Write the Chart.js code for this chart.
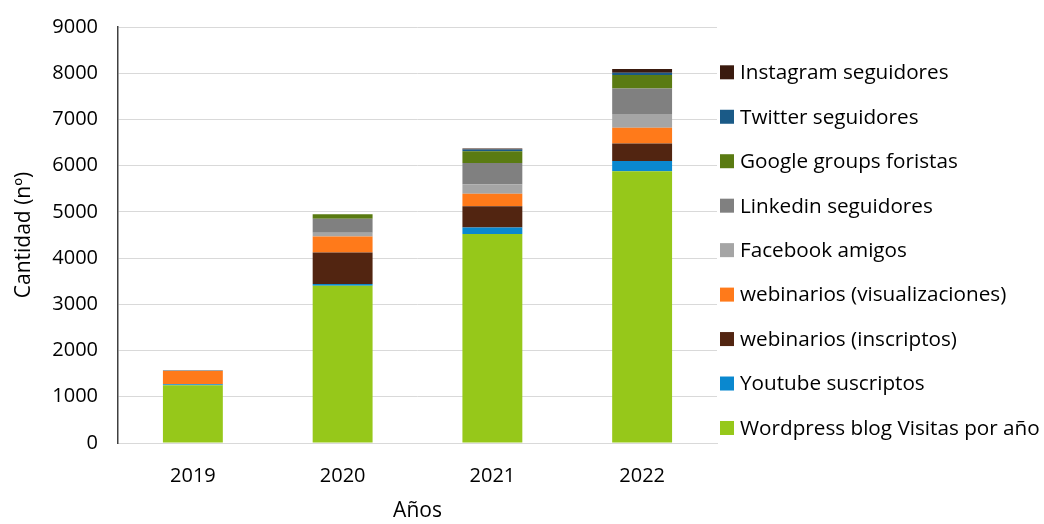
<!DOCTYPE html>
<html>
<head>
<meta charset="utf-8">
<script src="https://cdn.jsdelivr.net/npm/chart.js@4.4.1/dist/chart.umd.min.js"></script>
<style>
html,body{margin:0;padding:0;background:#fff;}
#wrap{width:1044px;height:524px;position:relative;}
</style>
</head>
<body>
<div id="wrap"><canvas id="c" width="1044" height="524"></canvas></div>
<script>
const categories = ['2019', '2020', '2021', '2022'];
const wordpress = [1250, 3400, 4520, 5880];
const youtube = [20, 40, 140, 220];
const inscriptos = [0, 680, 460, 380];
const visualizaciones = [290, 350, 270, 340];
const facebook = [20, 80, 210, 300];
const linkedin = [0, 300, 460, 550];
const google = [0, 100, 250, 290];
const twitter = [0, 0, 40, 50];
const instagram = [0, 0, 20, 80];
const yTicks = [0, 1000, 2000, 3000, 4000, 5000, 6000, 7000, 8000, 9000];

const FONT = "'Open Sans', 'Liberation Sans', sans-serif";

const seriesDefs = [
  ['Wordpress blog Visitas por año', wordpress, '#96C81A'],
  ['Youtube suscriptos', youtube, '#0A88CF'],
  ['webinarios (inscriptos)', inscriptos, '#522511'],
  ['webinarios (visualizaciones)', visualizaciones, '#FF7A1A'],
  ['Facebook amigos', facebook, '#A5A5A5'],
  ['Linkedin seguidores', linkedin, '#808080'],
  ['Google groups foristas', google, '#5A7B12'],
  ['Twitter seguidores', twitter, '#1A5A87'],
  ['Instagram seguidores', instagram, '#3A1A0E']
];

const datasets = seriesDefs.map(d => ({
  label: d[0], data: d[1], backgroundColor: d[2], borderWidth: 0,
  barPercentage: 0.4, categoryPercentage: 1.0
}));

const legendPlugin = {
  id: 'sideLegend',
  afterDraw(chart) {
    const ctx = chart.ctx;
    const ds = chart.data.datasets.slice().reverse();
    const x0 = 720, y0 = 72.3, step = 44.46, box = 14;
    ctx.save();
    ctx.font = "20.7px " + FONT;
    ctx.textBaseline = 'middle';
    ctx.textAlign = 'left';
    ds.forEach((d, i) => {
      const y = y0 + i * step;
      ctx.fillStyle = d.backgroundColor;
      ctx.fillRect(x0, y - box / 2, box, box);
      ctx.fillStyle = '#000';
      ctx.fillText(d.label, x0 + 20, y + 1);
    });
    ctx.restore();
  }
};

new Chart(document.getElementById('c'), {
  type: 'bar',
  data: { labels: categories, datasets },
  plugins: [legendPlugin],
  options: {
    responsive: false,
    animation: false,
    layout: { padding: { top: 27, right: 327, left: 0, bottom: 0 } },
    plugins: { legend: { display: false }, tooltip: { enabled: false } },
    scales: {
      x: {
        stacked: true,
        grid: { display: false },
        border: { color: '#D9D9D9', width: 1 },
        ticks: { color: '#000', font: { family: FONT, size: 20 }, padding: 13 },
        title: { display: true, text: 'Años', color: '#000', font: { family: FONT, size: 21 }, padding: { top: 0, bottom: 0 } },
        afterFit(s) { s.height = 81; s.paddingLeft = 0; s.paddingRight = 0; }
      },
      y: {
        stacked: true,
        min: 0, max: 9000,
        afterBuildTicks(s) { s.ticks = yTicks.map(v => ({ value: v })); },
        grid: { color: '#D9D9D9', drawTicks: false },
        border: { color: '#404040', width: 1.5 },
        ticks: { color: '#000', font: { family: FONT, size: 20 }, padding: 20, callback: v => String(v) },
        title: { display: true, text: 'Cantidad (nº)', color: '#000', font: { family: FONT, size: 21 }, padding: { top: 11, bottom: 0 } },
        afterFit(s) { s.width = 118; s.paddingTop = 0; s.paddingBottom = 0; }
      }
    }
  }
});
</script>
</body>
</html>
